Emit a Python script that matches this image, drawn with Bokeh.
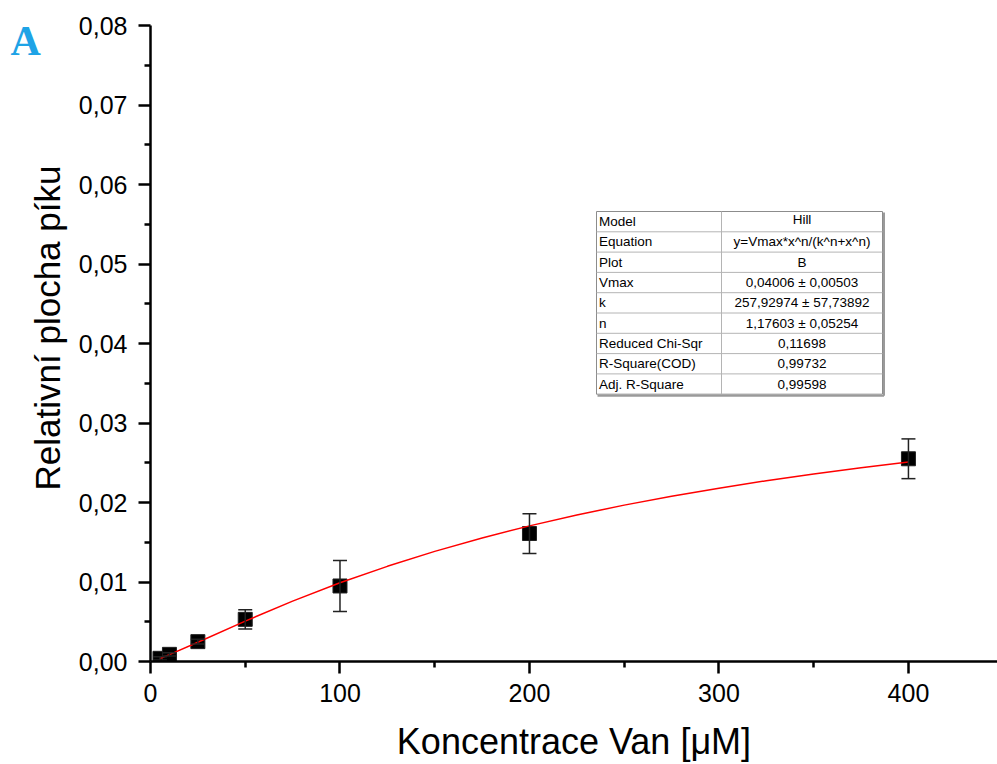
import math
from bokeh.plotting import figure
from bokeh.layouts import row
from bokeh.models import (Range1d, FixedTicker, CustomJSTickFormatter, Whisker,
                          TeeHead, ColumnDataSource)
from bokeh.core.properties import value
from bokeh.embed import file_html
from bokeh.resources import INLINE

# ---------------- data ----------------
conc = [5, 10, 25, 50, 100, 200, 400]
area = [0.0004, 0.0009, 0.0025, 0.0053, 0.0095, 0.0161, 0.0255]
area_err = [0.0002, 0.0002, 0.0003, 0.0012, 0.0032, 0.0025, 0.0025]

fit_x = [5, 10, 25, 50, 75, 100, 125, 150, 175, 200, 225, 250, 275, 300, 325, 350, 375, 400]
fit_y = [0.00038, 0.00086, 0.00242, 0.00508, 0.00759, 0.00990, 0.01197, 0.01385, 0.01554,
         0.01706, 0.01843, 0.01967, 0.02078, 0.02180, 0.02274, 0.02359, 0.02437, 0.02508]

x_ticks = [0, 100, 200, 300, 400]
x_minor = [50, 150, 250, 350]
y_ticks = [0.0, 0.01, 0.02, 0.03, 0.04, 0.05, 0.06, 0.07, 0.08]
y_minor = [0.005, 0.015, 0.025, 0.035, 0.045, 0.055, 0.065, 0.075]

table_labels = ["Model", "Equation", "Plot", "Vmax", "k", "n",
                "Reduced Chi-Sqr", "R-Square(COD)", "Adj. R-Square"]
table_values = ["Hill", "y=Vmax*x^n/(k^n+x^n)", "B", "0,04006 \u00b1 0,00503",
                "257,92974 \u00b1 57,73892", "1,17603 \u00b1 0,05254",
                "0,11698", "0,99732", "0,99598"]

x_title = "Koncentrace Van [\u03bcM]"
y_title = "Relativn\u00ed plocha p\u00edku"
panel_letter = "A"

# ---------------- layout ----------------
W, H = 997, 764
SIDE_W = 70                     # width of the left strip holding "A" and the y title
X0, X1 = 0, 447.0
Y0, Y1 = 0.0, 0.08
PL, PR, PT, PB = 150, 997, 25, 661  # frame edges on the page (px)


def dx(px):
    return X0 + (px - PL) / (PR - PL) * (X1 - X0)


def dy(py):
    return Y0 + (PB - py) / (PB - PT) * (Y1 - Y0)


FONT = "Liberation Sans"

# left strip: frame aligned with the main frame, coordinates = page pixels from bottom
side = figure(frame_width=SIDE_W, frame_height=PB - PT,
              x_range=Range1d(0, SIDE_W), y_range=Range1d(H - PB, H - PT),
              output_backend="svg", toolbar_location=None,
              x_axis_location=None, y_axis_location=None, title=None,
              min_border_left=0, min_border_right=0, min_border_top=PT,
              min_border_bottom=H - PB)
side.outline_line_color = None
side.xgrid.visible = False
side.ygrid.visible = False
side.background_fill_color = "white"
side.border_fill_color = "white"
side.text(x=[10], y=[H - 40], text=[panel_letter], text_font=value("Liberation Serif"),
          text_font_style="bold", text_font_size="42px", text_align="left",
          text_baseline="alphabetic", text_color="#1ea3e6")
side.text(x=[47], y=[H - 327.5], text=[y_title], angle=math.pi / 2,
          text_font=value(FONT), text_font_size="35px", text_align="center",
          text_baseline="alphabetic", text_color="black")

p = figure(width=W - SIDE_W, height=H, x_range=Range1d(X0, X1), y_range=Range1d(Y0, Y1),
           output_backend="svg", toolbar_location=None,
           min_border_left=PL - SIDE_W, min_border_right=0, min_border_top=PT,
           min_border_bottom=H - PB)
p.outline_line_color = None
p.xgrid.visible = False
p.ygrid.visible = False
p.background_fill_color = "white"
p.border_fill_color = "white"

for ax in (p.xaxis[0], p.yaxis[0]):
    ax.axis_line_width = 2.5
    ax.axis_line_color = "black"
    ax.major_tick_line_width = 2.5
    ax.minor_tick_line_width = 2.5
    ax.major_tick_line_color = "black"
    ax.minor_tick_line_color = "black"
    ax.major_tick_in = 0
    ax.minor_tick_in = 0
    ax.major_tick_out = 12
    ax.minor_tick_out = 6
    ax.major_label_text_font = FONT
    ax.major_label_text_font_size = "25px"
    ax.major_label_text_color = "black"

p.xaxis[0].ticker = FixedTicker(ticks=x_ticks, minor_ticks=x_minor)
p.yaxis[0].ticker = FixedTicker(ticks=y_ticks, minor_ticks=y_minor)
p.yaxis[0].formatter = CustomJSTickFormatter(code="return tick.toFixed(2).replace('.', ',');")
p.xaxis[0].major_label_standoff = 10
p.yaxis[0].major_label_standoff = 11
p.xaxis[0].axis_label = x_title
p.xaxis[0].axis_label_text_font = FONT
p.xaxis[0].axis_label_text_font_size = "36px"
p.xaxis[0].axis_label_text_font_style = "normal"
p.xaxis[0].axis_label_text_color = "black"
p.xaxis[0].axis_label_standoff = 16

# ---------------- table ----------------
T_L, T_R, T_D, T_T, ROW_H = 596, 882, 721, 211, 20.3
n_rows = len(table_labels)
T_B = T_T + ROW_H * n_rows
T_FS = "13.5px"

p.segment(x0=[dx(T_R + 1.5)], y0=[dy(T_T + 1)], x1=[dx(T_R + 1.5)], y1=[dy(T_B + 1.5)],
          line_color="#9a9a9a", line_width=2)
p.segment(x0=[dx(T_L + 1)], y0=[dy(T_B + 1.5)], x1=[dx(T_R + 1.5)], y1=[dy(T_B + 1.5)],
          line_color="#9a9a9a", line_width=2)
p.quad(left=[dx(T_L)], right=[dx(T_R)], top=[dy(T_T)], bottom=[dy(T_B)],
       fill_color="white", line_color="#8c8c8c", line_width=1)
row_lines_y = [dy(T_T + ROW_H * i) for i in range(1, n_rows)]
p.segment(x0=[dx(T_L)] * len(row_lines_y), y0=row_lines_y,
          x1=[dx(T_R)] * len(row_lines_y), y1=row_lines_y,
          line_color="#b4b4b4", line_width=1)
p.segment(x0=[dx(T_D)], y0=[dy(T_T)], x1=[dx(T_D)], y1=[dy(T_B)],
          line_color="#b4b4b4", line_width=1)

row_centers = [dy(T_T + ROW_H * (i + 0.5)) for i in range(n_rows)]
value_centers = list(row_centers)
value_centers[0] = dy(T_T + ROW_H * 0.5 - 2)
p.text(x=[dx(T_L + 2.5)] * n_rows, y=row_centers, text=table_labels,
       text_font=value(FONT), text_font_size=T_FS, text_baseline="middle",
       text_align="left", text_color="black")
p.text(x=[dx((T_D + T_R) / 2)] * n_rows, y=value_centers, text=table_values,
       text_font=value(FONT), text_font_size=T_FS, text_baseline="middle",
       text_align="center", text_color="black")

# ---------------- data marks ----------------
src = ColumnDataSource(data=dict(
    x=conc, y=area,
    lo=[a - e for a, e in zip(area, area_err)],
    hi=[a + e for a, e in zip(area, area_err)]))

p.add_layout(Whisker(source=src, base="x", upper="hi", lower="lo", dimension="height",
                     line_color="#222222", line_width=1.5,
                     upper_head=TeeHead(size=14, line_color="#222222", line_width=1.5),
                     lower_head=TeeHead(size=14, line_color="#222222", line_width=1.5),
                     level="glyph"))
p.scatter(x="x", y="y", source=src, marker="square", size=14,
          fill_color="black", line_color="#222222", line_width=1)
p.line(x=fit_x, y=fit_y, line_color="#ff0000", line_width=1.5)

layout = row(side, p, spacing=0)
open("out.html", "w").write(file_html(layout, INLINE))
